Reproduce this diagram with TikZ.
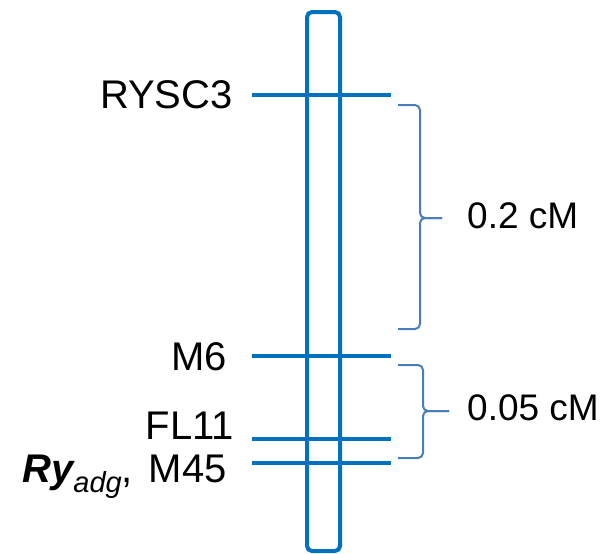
\documentclass[tikz,border=0pt]{standalone}
\usepackage{fontspec}
\setmainfont{Liberation Sans}
\usepackage{tikz}
\usetikzlibrary{calc}
\definecolor{chromblue}{RGB}{0,112,192}
\definecolor{braceblue}{RGB}{74,126,187}
\tikzset{
  chromosome/.style={draw=chromblue, line width=4pt, rounded corners=5pt},
  marker/.style={draw=chromblue, line width=4pt},
  bracket/.style={draw=braceblue, line width=2pt, rounded corners=5pt},
  markername/.style={inner sep=0pt, anchor=base east, font=\fontsize{40}{48}\selectfont},
  cmlabel/.style={inner sep=0pt, anchor=base west, font=\fontsize{37}{44}\selectfont}
}
\newcommand{\genesub}[1]{\raisebox{-10pt}{\fontsize{29}{32}\selectfont\itshape #1}}
\begin{document}
\begin{tikzpicture}[x=1pt,y=-1pt]
\useasboundingbox (0,0) rectangle (603,554);
\draw [chromosome] (307,12) rectangle (340,551);
% markers
\draw [marker] (252,95) coordinate (R1) -- (391,95) coordinate (R2);
\draw [marker] (252,356) coordinate (M1) -- (391,356) coordinate (M2);
\draw [marker] (252,439) coordinate (F1) -- (391,439) coordinate (F2);
\draw [marker] (252,463) coordinate (A1) -- (391,463) coordinate (A2);
\node [markername] (rysc) at (233,108) {RYSC3};
\node [markername] (m6) at (227,370) {M6};
\node [markername] (fl11) at (234,439) {FL11};
\node [markername] (m45) at (227,482)
    {{\bfseries\itshape Ry}\genesub{adg},\hspace{0.4em}M45};
% intervals
\draw [bracket]
    (398,105) -- (420,105) -- (420,218) coordinate (T1) -- (442,218) coordinate (P1);
\draw [bracket]
    (398,329) -- (420,329) -- (T1) -- (P1);
\draw [bracket]
    (398,365) -- (423,365) -- (423,411) coordinate (T2) -- (449,411) coordinate (P2);
\draw [bracket]
    (398,458) -- (423,458) -- (T2) -- (P2);
\node [cmlabel] (d1) at (467,228) {0.2 cM};
\node [cmlabel] (d2) at (467,420) {0.05 cM};
\end{tikzpicture}
\end{document}
